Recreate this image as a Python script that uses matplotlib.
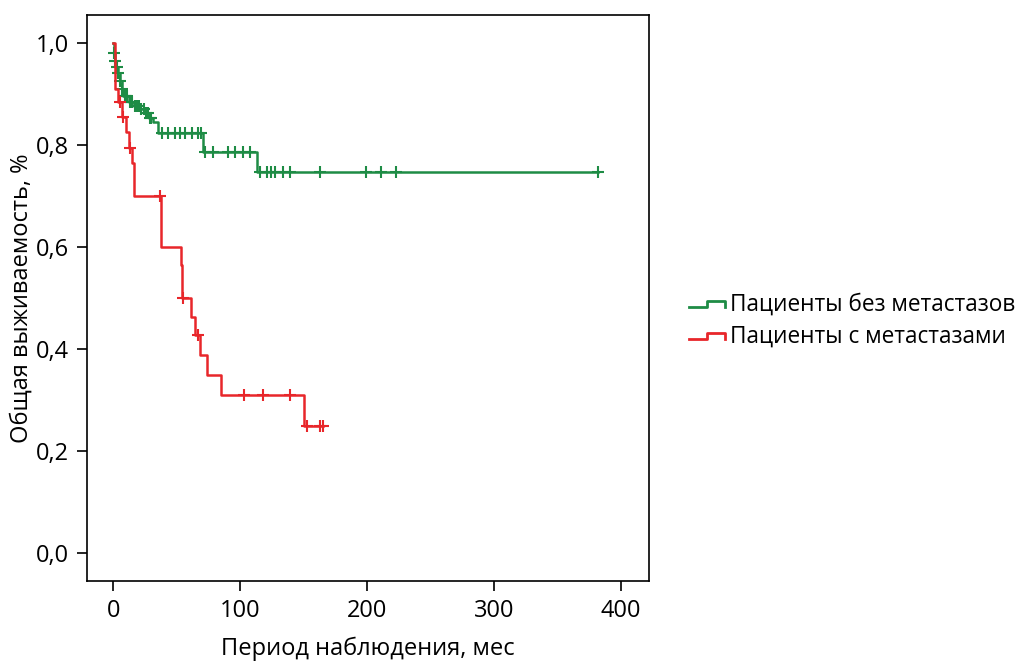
import numpy as np
import matplotlib
matplotlib.use("Agg")
import matplotlib.pyplot as plt
from matplotlib.legend_handler import HandlerBase
from matplotlib.lines import Line2D

plt.rcParams['font.family'] = ['Open Sans', 'DejaVu Sans']

# group without metastases: step times and survival after each step
green_t = [0, 0.3, 1, 2, 3.5, 5, 6.5, 8, 12, 16, 21, 25, 28, 31, 35.5, 70.5, 113.5]
green_s = [1.0, 0.98, 0.965, 0.952, 0.94, 0.925, 0.91, 0.895, 0.885, 0.877, 0.87,
           0.862, 0.853, 0.845, 0.824, 0.787, 0.747]
green_end = 382
green_cens = [0.8, 1.5, 2.5, 4, 5.5, 7, 9, 10, 11, 13, 14, 15, 17, 18, 19, 20, 22, 24,
              26, 27, 29, 30, 38, 43.4, 48.6, 52.5, 56.5, 61.7, 66.9, 69,
              72.2, 78.6, 90.4, 95.7, 102.2, 108,
              115.3, 121, 124.4, 127.6, 133.5, 138.8, 162.4, 199, 210.7, 222.4, 381.4]

# group with metastases
red_t = [0, 1.0, 1.5, 4.0, 6.5, 10, 12, 15, 16.5, 37.6, 53, 54, 61, 64, 68.6, 73.4, 85.2, 149.8]
red_s = [1.0, 0.955, 0.91, 0.885, 0.855, 0.826, 0.793, 0.765, 0.70, 0.60, 0.565, 0.50,
         0.463, 0.427, 0.388, 0.349, 0.310, 0.249]
red_end = 165.5
red_cens = [5.5, 8, 13.3, 36.9, 55, 66.9, 103, 117.9, 139.3, 152.4, 162.4, 165.5]

labels = ['Пациенты без метастазов', 'Пациенты с метастазами']
colors = ['#1e8c45', '#e8262a']

xticks = [0, 100, 200, 300, 400]
yticks = [0.0, 0.2, 0.4, 0.6, 0.8, 1.0]


class StepHandler(HandlerBase):
    def create_artists(self, legend, orig_handle, xdescent, ydescent, width, height,
                       fontsize, trans):
        x0, x1 = -xdescent, -xdescent + width
        xm = x0 + width * 0.5
        y_lo = -ydescent + height * 0.2
        y_hi = -ydescent + height * 0.6
        line = Line2D([x0, xm, xm, x1, x1], [y_lo, y_lo, y_hi, y_hi, y_lo],
                      color=orig_handle.get_color(), lw=2)
        line.set_transform(trans)
        return [line]


fig = plt.figure(figsize=(10.27, 6.61), dpi=100)
ax = fig.add_axes([0.0844, 0.121, 0.632 - 0.0844, 0.977 - 0.121])

handles = []
for t, s, end, cens, col in [(green_t, green_s, green_end, green_cens, colors[0]),
                              (red_t, red_s, red_end, red_cens, colors[1])]:
    tt = list(t) + [end]
    ss = list(s) + [s[-1]]
    h, = ax.step(tt, ss, where='post', color=col, lw=1.8)
    handles.append(h)
    idx = np.searchsorted(t, cens, side='right') - 1
    ax.plot(cens, np.array(s)[idx], ls='none', marker='+', ms=9, mew=1.5, color=col)

ax.set_xlim(-21, 422)
ax.set_ylim(-0.054, 1.054)
ax.set_xticks(xticks)
ax.set_yticks(yticks)
ax.set_yticklabels([f'{v:.1f}'.replace('.', ',') for v in yticks])
ax.tick_params(direction='out', length=7, width=1.2, labelsize=17, pad=6)
for sp in ax.spines.values():
    sp.set_linewidth(1.2)

ax.set_xlabel('Период наблюдения, мес', fontsize=17, labelpad=10)
ax.set_ylabel('Общая выживаемость, %', fontsize=17, labelpad=1)

fig.legend(handles, labels, handler_map={Line2D: StepHandler()},
           loc='center left', bbox_to_anchor=(0.655, 0.515), frameon=False,
           fontsize=16.3, handlelength=1.6, handletextpad=0.25, labelspacing=0.35,
           borderpad=0.2)

fig.savefig('out.png', dpi=100)
